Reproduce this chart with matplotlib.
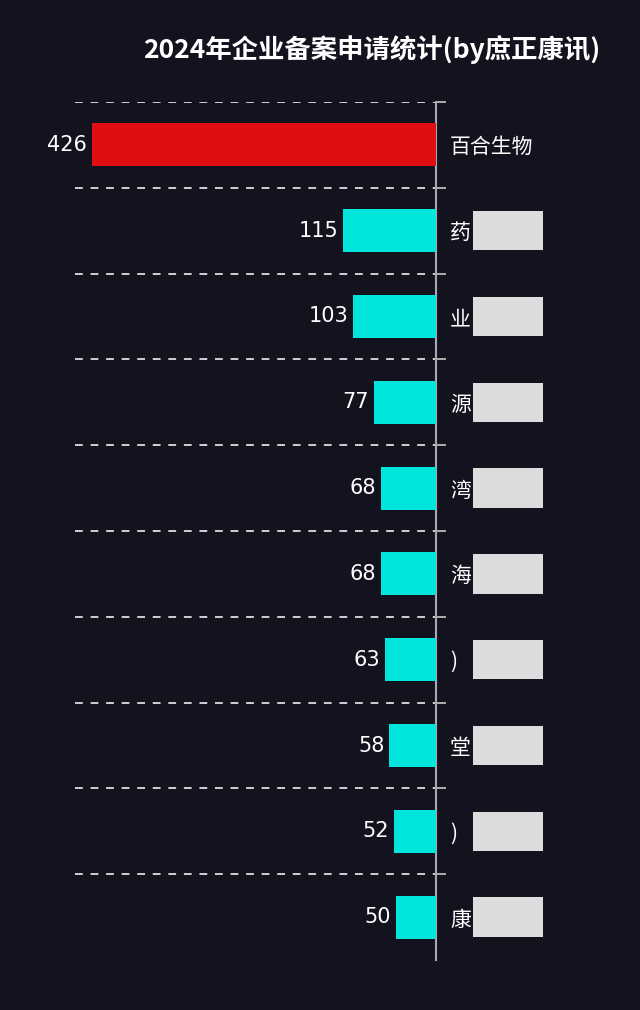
import matplotlib
matplotlib.use("Agg")
import matplotlib.pyplot as plt
from matplotlib.patches import Rectangle
from matplotlib.transforms import blended_transform_factory

plt.rcParams['font.family'] = ['Noto Sans CJK SC', 'DejaVu Sans']

# 数据 (names partly hidden in the source picture, only the last char is readable)
names = ['百合生物', '药', '业', '源', '湾', '海', ')', '堂', ')', '康']
hidden = [False, True, True, True, True, True, True, True, True, True]
counts = [426, 115, 103, 77, 68, 68, 63, 58, 52, 50]
title = '2024年企业备案申请统计(by庶正康讯)'

bg = '#12131f'
cyan = '#00e6dc'
red = '#e00d12'

fig = plt.figure(figsize=(6.4, 10.1), dpi=100, facecolor=bg)
ax = fig.add_axes([75/640, 1-960/1010, 361/640, 858/1010])
ax.set_facecolor(bg)

y = list(range(len(names)))
colors = [red] + [cyan]*(len(names)-1)
ax.barh(y, counts, height=0.5, color=colors, zorder=3)

ax.set_xlim(447, 0)   # bars grow to the left like the picture
ax.set_ylim(len(names)-0.5, -0.5)

# value labels
for i, v in enumerate(counts):
    ax.annotate(str(v), (v, i), xytext=(-3.5, 0), textcoords='offset points',
                ha='right', va='center', color='white', fontsize=15,
                family='DejaVu Sans')

# category axis on the right side
ax.yaxis.tick_right()
ax.set_yticks(y)
ax.set_yticklabels(names, fontsize=15, color='white')
ax.tick_params(axis='y', which='major', length=0, pad=10)
ax.set_yticks([i-0.5 for i in range(len(names))], minor=True)
ax.tick_params(axis='y', which='minor', length=7, width=1.2, color='#c8c8c8',
               direction='out')
ax.yaxis.grid(True, which='minor', color='#d0d0d0', linestyle=(0, (4, 4)),
              linewidth=1.4)
ax.set_xticks([])

for s in ['left', 'top', 'bottom']:
    ax.spines[s].set_visible(False)
ax.spines['right'].set_color('#a8a8b4')
ax.spines['right'].set_linewidth(1.5)

# gray blocks where the name was blurred out
tr = blended_transform_factory(fig.transFigure, ax.transData)
for i, h in enumerate(hidden):
    if h:
        ax.add_patch(Rectangle((473/640, i-0.23), 70/640, 0.46, transform=tr,
                               facecolor='#dcdcdc', edgecolor='none',
                               clip_on=False, zorder=4))

fig.text(600/640, 1-50/1010, title, ha='right', va='center', color='white',
         fontsize=19, fontweight='bold')

fig.savefig('out.png', dpi=100, facecolor=bg)
